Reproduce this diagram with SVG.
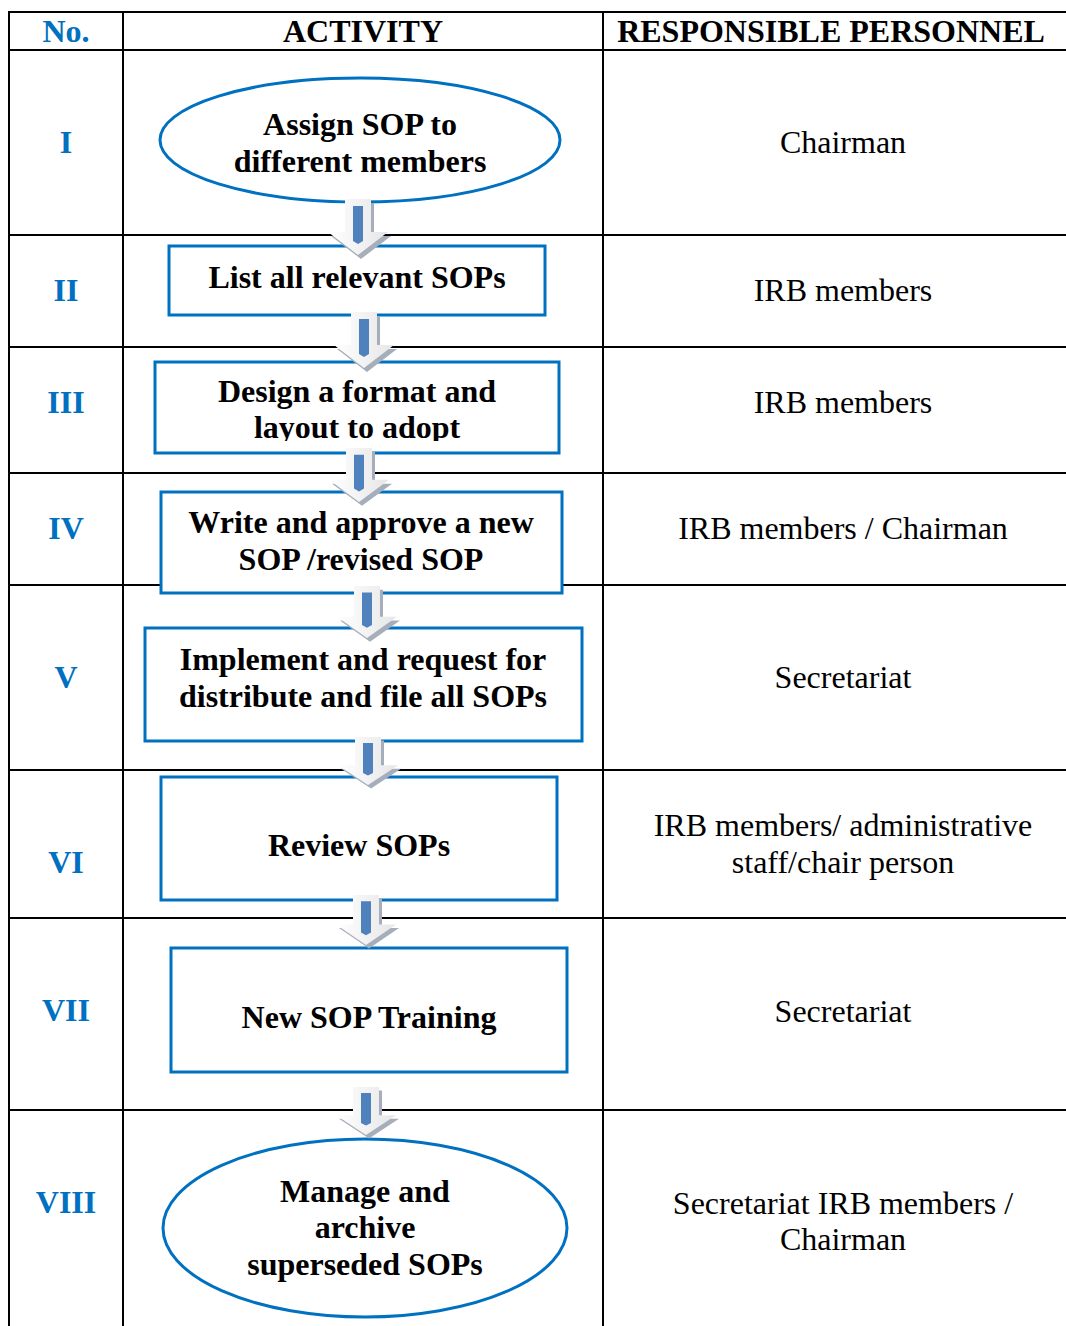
<svg xmlns="http://www.w3.org/2000/svg" width="1066" height="1326" viewBox="0 0 1066 1326">
  <style>
    .grid { stroke: #000; stroke-width: 2; fill: none; }
    .num { font-family: "Liberation Serif", "Times New Roman", serif; font-weight: bold; font-size: 32px; fill: #0070c0; text-anchor: middle; }
    .hdr { font-family: "Liberation Serif", "Times New Roman", serif; font-weight: bold; font-size: 32px; fill: #000; text-anchor: middle; }
    .box { fill: #fff; stroke: #0070c0; stroke-width: 3; }
    .lbl { font-family: "Liberation Serif", "Times New Roman", serif; font-weight: bold; font-size: 32px; fill: #000; text-anchor: middle; }
    .per { font-family: "Liberation Serif", "Times New Roman", serif; font-size: 32px; fill: #000; text-anchor: middle; }
  </style>
  <defs>
    <linearGradient id="arrFill" x1="0" y1="0" x2="1" y2="0">
      <stop offset="0" stop-color="#ffffff"/>
      <stop offset="1" stop-color="#e6e6e6"/>
    </linearGradient>
    <g id="arrow">
      <path d="M-13,0 H13 V33 H30 L0,56 L-30,33 H-13 Z" fill="#a6aebb" transform="translate(3,4)"/>
      <path d="M-13,0 H13 V33 H30 L0,56 L-30,33 H-13 Z" fill="url(#arrFill)"/>
      <path d="M-5,7 H5 V42 L0,45 L-5,42 Z" fill="#4f81bd"/>
    </g>
    <clipPath id="clip3">
      <rect x="150" y="355" width="420" height="86"/>
    </clipPath>
  </defs>

  <rect width="1066" height="1326" fill="#fff"/>

  <g id="table">
    <line class="grid" x1="8" y1="12" x2="1066" y2="12"/>
    <line class="grid" x1="8" y1="50" x2="1066" y2="50"/>
    <line class="grid" x1="9" y1="11" x2="9" y2="1326"/>
    <line class="grid" x1="123" y1="11" x2="123" y2="1326"/>
    <line class="grid" x1="603" y1="11" x2="603" y2="1326"/>
    <line class="grid" x1="8" y1="235" x2="1066" y2="235"/>
    <line class="grid" x1="8" y1="347" x2="1066" y2="347"/>
    <line class="grid" x1="8" y1="473" x2="1066" y2="473"/>
    <line class="grid" x1="8" y1="585" x2="1066" y2="585"/>
    <line class="grid" x1="8" y1="770" x2="1066" y2="770"/>
    <line class="grid" x1="8" y1="918" x2="1066" y2="918"/>
    <line class="grid" x1="8" y1="1110" x2="1066" y2="1110"/>
    <text class="num" x="66" y="42">No.</text>
    <text class="hdr" x="363" y="42">ACTIVITY</text>
    <text class="hdr" x="831" y="42">RESPONSIBLE PERSONNEL</text>
  </g>

  <g id="numbers">
    <text class="num" x="66" y="153">I</text>
    <text class="num" x="66" y="301">II</text>
    <text class="num" x="66" y="413">III</text>
    <text class="num" x="66" y="539">IV</text>
    <text class="num" x="66" y="688">V</text>
    <text class="num" x="66" y="873">VI</text>
    <text class="num" x="66" y="1021">VII</text>
    <text class="num" x="66" y="1213">VIII</text>
  </g>

  <g id="personnel">
    <text class="per" x="843" y="153">Chairman</text>
    <text class="per" x="843" y="301">IRB members</text>
    <text class="per" x="843" y="413">IRB members</text>
    <text class="per" x="843" y="539">IRB members / Chairman</text>
    <text class="per" x="843" y="688">Secretariat</text>
    <text class="per" x="843" y="836">IRB members/ administrative</text>
    <text class="per" x="843" y="873">staff/chair person</text>
    <text class="per" x="843" y="1022">Secretariat</text>
    <text class="per" x="843" y="1214">Secretariat IRB members /</text>
    <text class="per" x="843" y="1250">Chairman</text>
  </g>

  <g id="node1">
    <ellipse class="box" cx="360" cy="140" rx="200" ry="62"/>
    <text class="lbl" x="360" y="135">Assign SOP to</text>
    <text class="lbl" x="360" y="172">different members</text>
  </g>
  <g id="node2">
    <rect class="box" x="169" y="246" width="376" height="69"/>
    <text class="lbl" x="357" y="288">List all relevant SOPs</text>
  </g>
  <g id="node3">
    <rect class="box" x="155" y="362" width="404" height="91"/>
    <g clip-path="url(#clip3)">
      <text class="lbl" x="357" y="402">Design a format and</text>
      <text class="lbl" x="357" y="438">layout to adopt</text>
    </g>
  </g>
  <g id="node4">
    <rect class="box" x="161" y="492" width="401" height="101"/>
    <text class="lbl" x="361" y="533">Write and approve a new</text>
    <text class="lbl" x="361" y="570">SOP /revised SOP</text>
  </g>
  <g id="node5">
    <rect class="box" x="145" y="628" width="437" height="113"/>
    <text class="lbl" x="363" y="670">Implement and request for</text>
    <text class="lbl" x="363" y="707">distribute and file all SOPs</text>
  </g>
  <g id="node6">
    <rect class="box" x="161" y="777" width="396" height="123"/>
    <text class="lbl" x="359" y="856">Review SOPs</text>
  </g>
  <g id="node7">
    <rect class="box" x="171" y="948" width="396" height="124"/>
    <text class="lbl" x="369" y="1028">New SOP Training</text>
  </g>
  <g id="node8">
    <ellipse class="box" cx="365" cy="1228" rx="202" ry="89"/>
    <text class="lbl" x="365" y="1202">Manage and</text>
    <text class="lbl" x="365" y="1238">archive</text>
    <text class="lbl" x="365" y="1275">superseded SOPs</text>
  </g>

  <g id="connectors">
    <use href="#arrow" transform="translate(358,199)"/>
    <use href="#arrow" transform="translate(364,312)"/>
    <use href="#arrow" transform="translate(359,448) scale(1,0.964)"/>
    <use href="#arrow" transform="translate(367,586) scale(1,0.93)"/>
    <use href="#arrow" transform="translate(368,737) scale(1,0.857)"/>
    <use href="#arrow" transform="translate(366,895) scale(1,0.893)"/>
    <use href="#arrow" transform="translate(366,1087) scale(1,0.857)"/>
  </g>
</svg>
